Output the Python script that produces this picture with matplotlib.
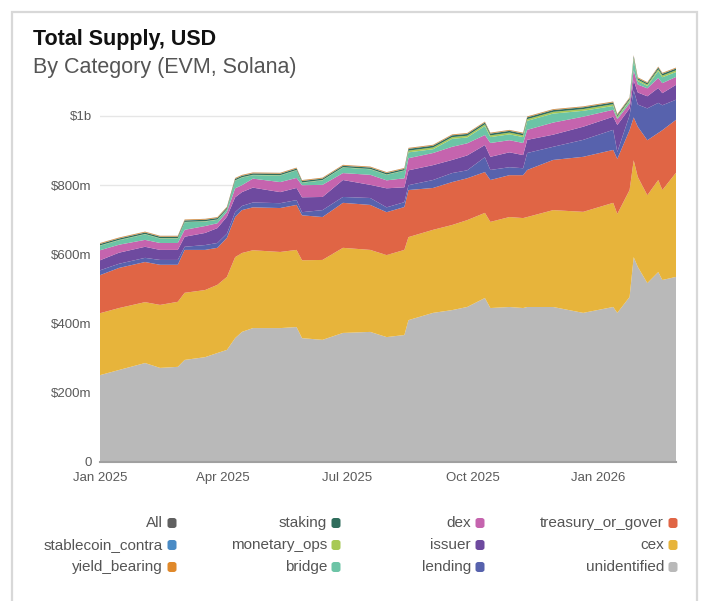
import matplotlib
matplotlib.use("Agg")
import matplotlib.pyplot as plt
import matplotlib.dates as mdates
from matplotlib.patches import FancyBboxPatch, Rectangle
import numpy as np
import pandas as pd

plt.rcParams['font.family'] = ['Liberation Sans', 'DejaVu Sans']

dates = pd.to_datetime([
    "2025-01-01", "2025-01-15", "2025-02-03", "2025-02-14", "2025-02-27",
    "2025-03-04", "2025-03-19", "2025-03-28", "2025-04-04", "2025-04-10",
    "2025-04-15", "2025-04-23", "2025-05-13", "2025-05-25", "2025-05-29",
    "2025-06-13", "2025-06-28", "2025-07-18", "2025-07-30", "2025-08-12",
    "2025-08-15", "2025-09-02", "2025-09-16", "2025-09-27", "2025-10-10",
    "2025-10-14", "2025-10-28", "2025-11-07", "2025-11-10", "2025-11-29",
    "2025-12-21", "2026-01-12", "2026-01-15", "2026-01-24", "2026-01-27",
    "2026-01-30", "2026-02-06", "2026-02-14", "2026-02-17", "2026-02-27",
])

# values in $ millions
unidentified = [251, 266, 286, 272, 275, 295, 303, 315, 324, 358,
                376, 387, 387, 390, 358, 353, 373, 376, 361, 367,
                410, 431, 439, 448, 474, 445, 448, 445, 448, 448,
                431, 448, 431, 477, 592, 564, 517, 549, 526, 535]
cex = [179, 179, 176, 182, 188, 194, 194, 197, 211, 234,
       228, 225, 220, 223, 225, 231, 246, 237, 237, 246,
       240, 240, 246, 251, 246, 249, 260, 260, 260, 280,
       292, 301, 286, 309, 280, 260, 254, 266, 260, 301]
treasury_or_gover = [110, 116, 116, 116, 107, 124, 116, 107, 113, 116,
                     124, 124, 127, 130, 130, 124, 130, 130, 124, 124,
                     136, 121, 124, 121, 118, 121, 121, 124, 136, 145,
                     159, 153, 159, 173, 124, 145, 159, 136, 173, 153]
lending = [14, 12, 12, 14, 14, 9, 14, 14, 12, 14,
           12, 14, 14, 14, 9, 20, 17, 20, 14, 14,
           14, 23, 26, 23, 43, 29, 23, 20, 49, 38,
           49, 58, 20, 43, 78, 64, 92, 87, 72, 58]
issuer = [29, 32, 32, 29, 29, 29, 35, 43, 49, 43,
          40, 43, 32, 35, 43, 38, 49, 38, 55, 43,
          43, 43, 38, 43, 35, 38, 43, 38, 38, 35,
          38, 38, 78, 20, 29, 35, 35, 43, 35, 43]
dex = [29, 23, 20, 20, 20, 20, 20, 14, 14, 26,
       20, 26, 29, 29, 35, 35, 20, 29, 23, 26,
       35, 35, 38, 35, 29, 40, 35, 35, 29, 35,
       29, 20, 17, 14, 29, 23, 23, 29, 29, 23]
bridge = [13, 13, 16, 13, 13, 22, 13, 10, 7, 22,
          22, 10, 19, 22, 7, 13, 16, 16, 16, 22,
          17, 11, 23, 17, 26, 17, 17, 17, 26, 26,
          17, 11, 4, 7, 31, 10, 7, 20, 17, 14]
monetary_ops = [1, 1, 1, 1, 1, 1, 1, 1, 1, 1,
                1, 1, 1, 1, 1, 1, 1, 1, 1, 1,
                5, 5, 5, 5, 5, 5, 5, 5, 5, 5,
                5, 5, 4, 4, 5, 4, 4, 5, 5, 5]
staking = [4, 4, 4, 4, 4, 4, 4, 4, 4, 4,
           4, 4, 4, 4, 4, 4, 4, 4, 4, 4,
           5, 5, 5, 5, 5, 5, 5, 5, 5, 5,
           5, 5, 4, 4, 5, 4, 4, 5, 5, 5]
stablecoin_contra = [0.5] * 40
yield_bearing = [2] * 40
all_cat = [0.3] * 40

series = [
    ("unidentified", unidentified, "#b9b9b9"),
    ("cex", cex, "#e7b43b"),
    ("treasury_or_gover", treasury_or_gover, "#e06545"),
    ("lending", lending, "#5762ad"),
    ("issuer", issuer, "#6e4a9f"),
    ("dex", dex, "#c564ae"),
    ("bridge", bridge, "#6cc4a6"),
    ("monetary_ops", monetary_ops, "#a7c955"),
    ("staking", staking, "#2f6d5c"),
    ("stablecoin_contra", stablecoin_contra, "#4a8bc5"),
    ("yield_bearing", yield_bearing, "#e0892b"),
    ("All", all_cat, "#606060"),
]

legend_order = [
    ["All", "stablecoin_contra", "yield_bearing"],
    ["staking", "monetary_ops", "bridge"],
    ["dex", "issuer", "lending"],
    ["treasury_or_gover", "cex", "unidentified"],
]
colors = {n: c for n, _, c in series}

W, H = 713, 601
fig = plt.figure(figsize=(W / 100, H / 100), dpi=100)

# card border
fig.patches.append(Rectangle((12 / W, -0.01), (697 - 12) / W, (H - 12) / H + 0.01,
                             transform=fig.transFigure, fill=False,
                             edgecolor="#d8d8d8", linewidth=1.6))

ax = fig.add_axes([100 / W, (H - 462) / H, 576 / W, 412 / H])
vals = np.array([np.array(s, dtype=float) * 1e6 for _, s, _ in series])
ax.stackplot(dates, vals, colors=[c for _, _, c in series], linewidth=0)

ax.set_xlim(pd.Timestamp("2025-01-01"), pd.Timestamp("2026-02-27"))
ax.set_ylim(0, 1190.75e6)
yt = [0, 200e6, 400e6, 600e6, 800e6, 1000e6]
ax.set_yticks(yt)
ax.set_yticklabels(["0", "$200m", "$400m", "$600m", "$800m", "$1b"])
ax.set_xticks(pd.to_datetime(["2025-01-01", "2025-04-01", "2025-07-01",
                              "2025-10-01", "2026-01-01"]))
ax.xaxis.set_major_formatter(mdates.DateFormatter("%b %Y"))
ax.grid(axis="y", color="#e6e6e6", linewidth=1)
ax.set_axisbelow(True)
for s in ["top", "right", "left"]:
    ax.spines[s].set_visible(False)
ax.spines["bottom"].set_color("#a0a0a0")
ax.spines["bottom"].set_linewidth(1.5)
ax.tick_params(axis="both", length=0, labelsize=9.5, labelcolor="#5a5a5a")
ax.tick_params(axis="y", pad=6)
ax.tick_params(axis="x", pad=7)

fig.text(33 / W, 1 - 40 / H, "Total Supply, USD", fontsize=15.5, fontweight="bold",
         color="#111111", va="center", ha="left")
fig.text(33 / W, 1 - 67 / H, "By Category (EVM, Solana)", fontsize=15.5,
         color="#555555", va="center", ha="left")

# legend
col_x = [172, 336, 480, 673]
row_y = [523, 545, 567]
for ci, col in enumerate(legend_order):
    for ri, name in enumerate(col):
        cx, cy = col_x[ci], row_y[ri]
        fig.text((cx - 9) / W, 1 - cy / H, name, fontsize=11, color="#555555",
                 ha="right", va="center")
        sq = FancyBboxPatch(((cx - 4.5) / W, 1 - (cy + 5) / H), 9 / W, 10 / H,
                            boxstyle="round,pad=0,rounding_size=0.004",
                            transform=fig.transFigure, facecolor=colors[name],
                            edgecolor="none")
        fig.patches.append(sq)

fig.savefig("out.png", dpi=100)
